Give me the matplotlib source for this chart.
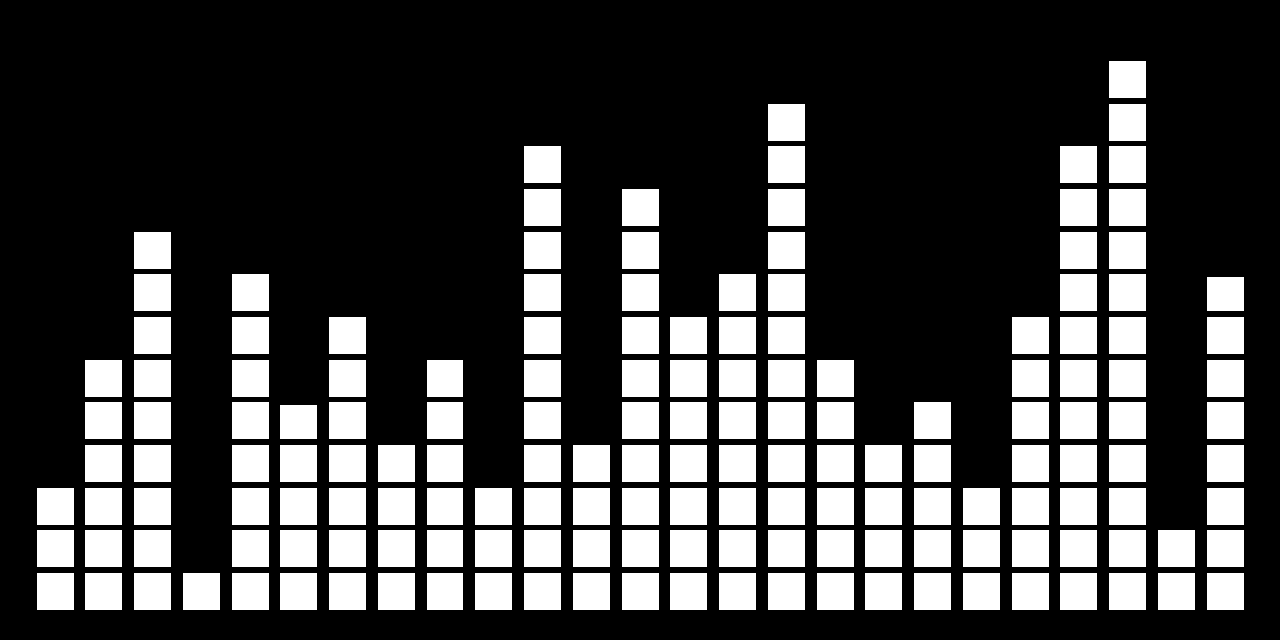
import numpy as np
import matplotlib.pyplot as plt

# stacked block levels per column (fractional top = partial block)
columns = list(range(25))
levels = [3, 6, 9, 1, 8, 4.8, 7, 4, 6, 3, 11, 4, 10, 7, 8, 12, 6, 4, 5, 3, 7, 11, 13, 2, 7.8]

BLOCK_W = 37 / 48.75
BLOCK_H = 37 / 42.67

fig = plt.figure(figsize=(12.8, 6.4), dpi=100, facecolor="black")
ax = fig.add_axes([0, 0, 1, 1])
ax.set_facecolor("black")

vals = np.array(levels, dtype=float)
for lvl in range(int(np.ceil(vals.max()))):
    h = np.clip(vals - lvl, 0, BLOCK_H)
    mask = h > 0
    ax.bar(np.array(columns)[mask], h[mask], bottom=lvl, width=BLOCK_W,
           color="white", edgecolor="none", linewidth=0)

ax.set_xlim(-55 / 48.75, (1280 - 55) / 48.75)
ax.set_ylim(-30 / 42.67, 610 / 42.67)
ax.axis("off")

fig.savefig("out.png", dpi=100, facecolor="black")
